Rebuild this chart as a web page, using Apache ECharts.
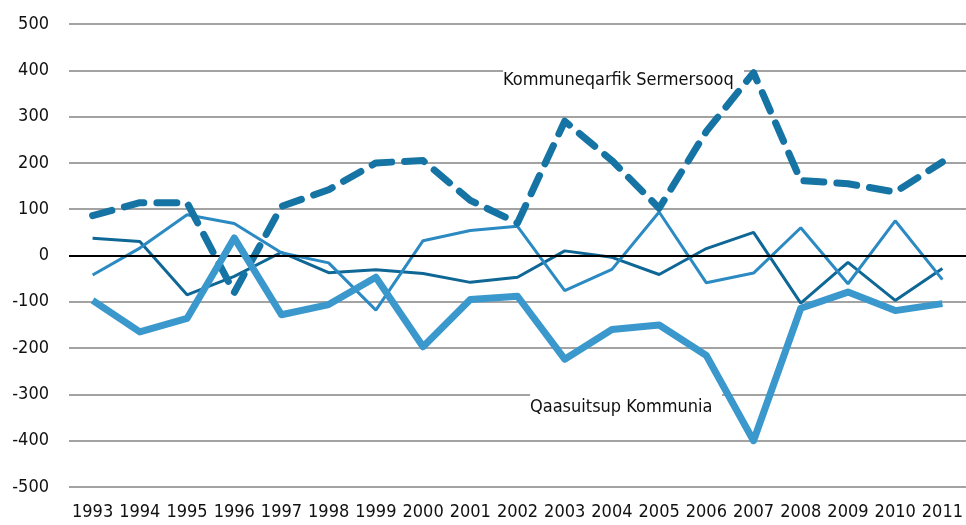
<!DOCTYPE html>
<html>
<head>
<meta charset="utf-8">
<style>html,body{margin:0;padding:0;background:#fff;}#chart{width:966px;height:525px;}</style>
<script src="https://cdn.jsdelivr.net/npm/echarts@6/dist/echarts.min.js"></script>
</head>
<body>
<div id="chart"></div>
<script>
var years = ['1993','1994','1995','1996','1997','1998','1999','2000','2001','2002','2003','2004','2005','2006','2007','2008','2009','2010','2011'];
var sermersooq = [86, 114, 114, -80, 106, 142, 200, 205, 119, 70, 290, 205, 102, 268, 395, 162, 155, 137, 202];
var darkThin = [37, 30, -85, -45, 7, -37, -31, -39, -58, -47, 10, -4, -41, 15, 50, -103, -15, -97, -28];
var midThin = [-42, 16, 88, 69, 6, -16, -118, 32, 54, 63, -76, -30, 94, -59, -38, 60, -61, 75, -52];
var qaasuitsup = [-97, -165, -136, 38, -128, -106, -47, -197, -95, -88, -224, -160, -150, -216, -400, -114, -79, -119, -104];
var yTicks = {min: -500, max: 500, interval: 100};
var labelSermersooq = 'Kommuneqarfik Sermersooq';
var labelQaasuitsup = 'Qaasuitsup Kommunia';

var FONT = '"DejaVu Sans Condensed", "Roboto", sans-serif';

var chart = echarts.init(document.getElementById('chart'), null, {renderer: 'canvas'});
chart.setOption({
  animation: false,
  grid: {left: 69, right: 0, top: 24, bottom: 38},
  xAxis: {
    type: 'category',
    data: years,
    boundaryGap: true,
    axisLine: {show: false},
    axisTick: {show: false},
    axisLabel: {fontFamily: FONT, fontSize: 18, color: '#111', margin: 16, interval: 0}
  },
  yAxis: {
    type: 'value',
    min: yTicks.min, max: yTicks.max, interval: yTicks.interval,
    axisLine: {show: false},
    axisTick: {show: false},
    axisLabel: {fontFamily: FONT, fontSize: 18, color: '#111', margin: 20},
    splitLine: {lineStyle: {color: '#a3a3a3', width: 2}}
  },
  graphic: [
    {type: 'rect', z: 1, shape: {x: 503, y: 67, width: 241, height: 29}, style: {fill: '#fff'}},
    {type: 'text', z: 1, left: 503, top: 71, style: {text: labelSermersooq, font: '18px ' + FONT, fill: '#111'}},
    {type: 'rect', z: 1, shape: {x: 530, y: 391, width: 192, height: 30}, style: {fill: '#fff'}},
    {type: 'text', z: 1, left: 530, top: 398, style: {text: labelQaasuitsup, font: '18px ' + FONT, fill: '#111'}}
  ],
  series: [
    {
      name: 'dark', type: 'line', data: darkThin, symbol: 'none', z: 3,
      lineStyle: {color: '#0f6796', width: 3},
      markLine: {
        silent: true, symbol: 'none', label: {show: false},
        lineStyle: {color: '#000', width: 2, type: 'solid'},
        data: [{yAxis: 0}]
      }
    },
    {
      name: 'mid', type: 'line', data: midThin, symbol: 'none', z: 3,
      lineStyle: {color: '#2b8ac2', width: 3}
    },
    {
      name: 'Kommuneqarfik Sermersooq', type: 'line', data: sermersooq, symbol: 'none', z: 4,
      lineStyle: {color: '#1674a4', width: 7, type: [20, 13], cap: 'round', join: 'round'}
    },
    {
      name: 'Qaasuitsup Kommunia', type: 'line', data: qaasuitsup, symbol: 'none', z: 5,
      lineStyle: {color: '#3a98cd', width: 7, join: 'round'}
    }
  ]
});
</script>
</body>
</html>
